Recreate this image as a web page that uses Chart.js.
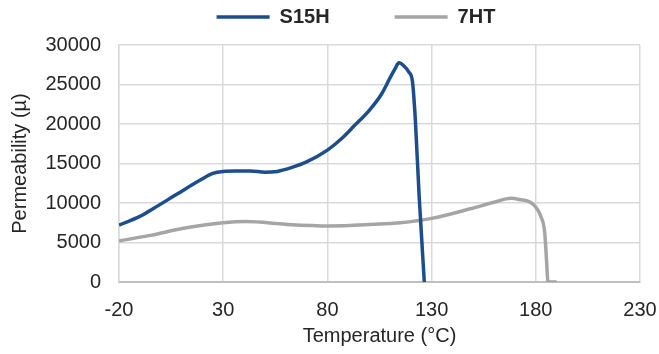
<!DOCTYPE html>
<html>
<head>
<meta charset="utf-8">
<script src="https://cdn.jsdelivr.net/npm/chart.js@4.4.1/dist/chart.umd.min.js"></script>
<style>
    html, body { margin: 0; padding: 0; background: #fff; }
    #wrap { width: 659px; height: 354px; }
</style>
</head>
<body>
<div id="wrap"><canvas id="perm-chart" width="659" height="354"></canvas></div>
<script>
// Data (temperature in °C, permeability in µ)
const s15hTemp = [-20, -10, -3.5, 7.7, 19, 25, 30, 36, 43, 50, 56, 63, 70, 80, 87, 93, 100, 106, 110, 112.5, 114.3, 116.5, 119, 120.8, 122.2, 124, 126.5];
const s15hPerm = [7200, 8300, 9300, 11100, 12900, 13750, 14000, 14050, 14050, 13900, 14000, 14500, 15200, 16700, 18200, 19800, 21700, 23800, 25800, 27000, 27750, 27400, 26600, 25400, 20500, 11000, 0];

const ht7Temp = [-20, -5, 11, 30, 41, 60, 81, 102, 115, 130, 149, 160, 168, 172, 178.4, 182.4, 184.3, 185.2, 185.8, 187, 190];
const ht7Perm = [5200, 5900, 6800, 7500, 7650, 7300, 7100, 7300, 7500, 8050, 9300, 10100, 10600, 10450, 9900, 8300, 6200, 2500, 100, 0, 0];

const xTicks = [-20, 30, 80, 130, 180, 230];
const yTicks = [0, 5000, 10000, 15000, 20000, 25000, 30000];

const textColor = '#262626';
const gridColor = '#d9d9d9';

function toPoints(xs, ys) {
    return xs.map((x, i) => ({ x: x, y: ys[i] }));
}

// Squeeze the legend into the top band and shift it to where the reference puts it
const legendPlacement = {
    id: 'legendPlacement',
    afterInit(chart) {
        const legend = chart.legend;
        if (!legend) return;
        const fitOrig = legend.fit;
        legend.fit = function () {
            fitOrig.call(this);
            this.height = 45;
        };
        // _draw runs inside the legend's clip, so shift there
        const drawOrig = legend._draw;
        legend._draw = function () {
            const ctx = this.ctx;
            ctx.save();
            ctx.translate(36, -58);
            drawOrig.call(this);
            ctx.restore();
        };
    }
};

function initializeChart() {
    const ctx = document.getElementById('perm-chart').getContext('2d');
    new Chart(ctx, {
        type: 'line',
        data: {
            datasets: [{
                label: 'S15H',
                data: toPoints(s15hTemp, s15hPerm),
                borderColor: '#1c4d8c',
                backgroundColor: '#1c4d8c',
                borderWidth: 3.5,
                pointRadius: 0,
                pointStyle: 'line',
                cubicInterpolationMode: 'monotone',
                fill: false
            }, {
                label: '7HT',
                data: toPoints(ht7Temp, ht7Perm),
                borderColor: '#a5a5a5',
                backgroundColor: '#a5a5a5',
                borderWidth: 3.5,
                pointRadius: 0,
                pointStyle: 'line',
                cubicInterpolationMode: 'monotone',
                fill: false
            }]
        },
        options: {
            responsive: false,
            animation: false,
            layout: {
                padding: { left: 0, right: 19, top: 0, bottom: 0 }
            },
            plugins: {
                legend: {
                    display: true,
                    position: 'top',
                    labels: {
                        usePointStyle: true,
                        pointStyleWidth: 53,
                        padding: 65,
                        color: textColor,
                        font: { family: 'Liberation Sans, Arial, sans-serif', size: 20, weight: 'bold' }
                    }
                },
                tooltip: { enabled: false }
            },
            scales: {
                x: {
                    type: 'linear',
                    min: -20,
                    max: 230,
                    afterBuildTicks: (scale) => {
                        scale.ticks = xTicks.map(v => ({ value: v }));
                    },
                    afterFit: (scale) => {
                        scale.height = 72;
                    },
                    grid: {
                        color: gridColor,
                        lineWidth: 1.5,
                        drawTicks: true,
                        tickLength: 16,
                        tickColor: 'rgba(0,0,0,0)'
                    },
                    border: {
                        color: '#bfbfbf',
                        width: 2
                    },
                    ticks: {
                        padding: 0,
                        color: textColor,
                        maxRotation: 0,
                        font: { family: 'Liberation Sans, Arial, sans-serif', size: 20 }
                    },
                    title: {
                        display: true,
                        text: 'Temperature (°C)',
                        color: textColor,
                        padding: { top: 0, bottom: 6 },
                        font: { family: 'Liberation Sans, Arial, sans-serif', size: 20 }
                    }
                },
                y: {
                    min: 0,
                    max: 30000,
                    afterBuildTicks: (scale) => {
                        scale.ticks = yTicks.map(v => ({ value: v }));
                    },
                    afterFit: (scale) => {
                        scale.width = 119;
                    },
                    grid: {
                        color: gridColor,
                        lineWidth: 1.5,
                        drawTicks: false
                    },
                    border: {
                        color: gridColor,
                        width: 1.5
                    },
                    ticks: {
                        padding: 18,
                        color: textColor,
                        callback: (value) => String(value),
                        font: { family: 'Liberation Sans, Arial, sans-serif', size: 20 }
                    },
                    title: {
                        display: true,
                        text: 'Permeability (µ)',
                        color: textColor,
                        padding: { top: 8, bottom: 0 },
                        font: { family: 'Liberation Sans, Arial, sans-serif', size: 20 }
                    }
                }
            }
        },
        plugins: [legendPlacement]
    });
}

document.addEventListener('DOMContentLoaded', initializeChart);
</script>
</body>
</html>
